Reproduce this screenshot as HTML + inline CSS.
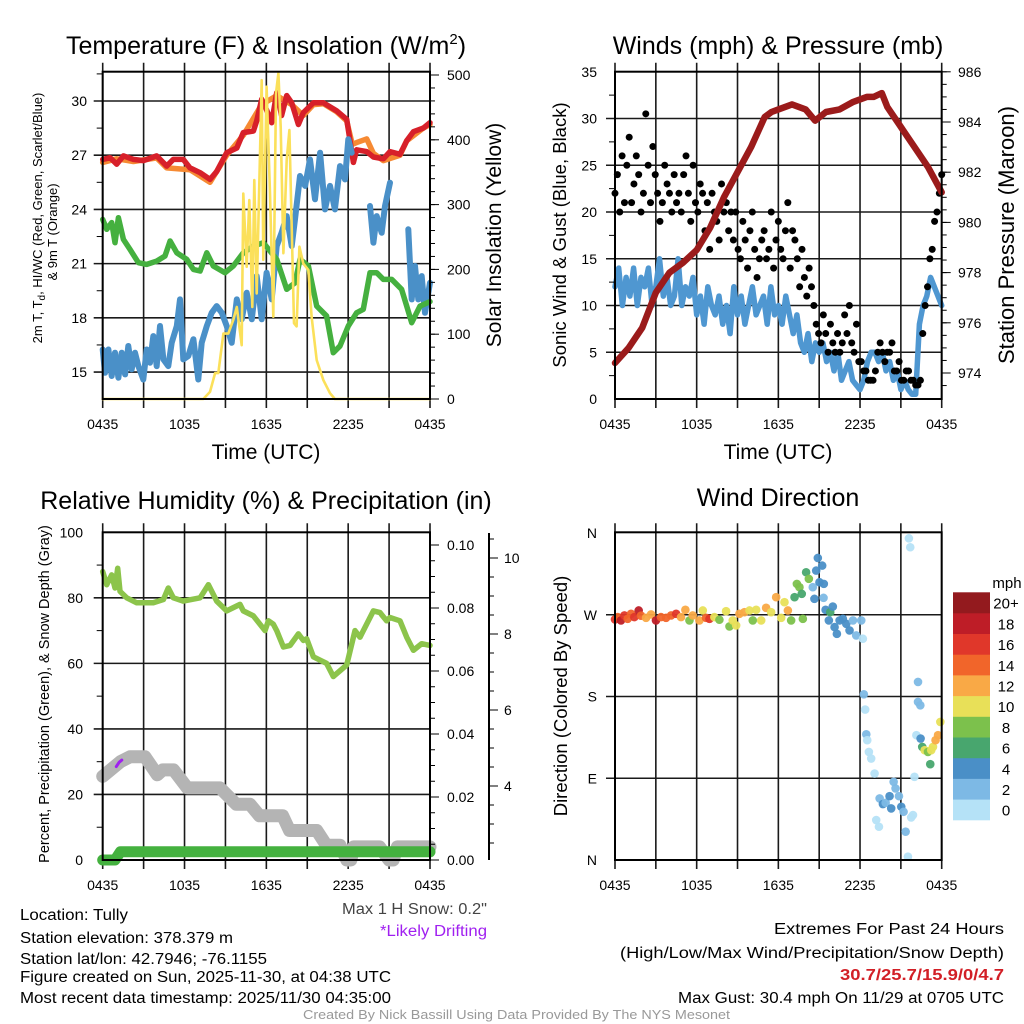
<!DOCTYPE html>
<html><head><meta charset="utf-8"><style>
html,body{margin:0;padding:0;background:#fff;}
svg{display:block;font-family:"Liberation Sans",sans-serif;}
</style></head><body>
<svg id="fig" width="1024" height="1024" viewBox="0 0 1024 1024" xmlns="http://www.w3.org/2000/svg">
<rect x="0" y="0" width="1024" height="1024" fill="#fff"/>
<g id="grids"></g>
<g id="marks"></g>
<g id="axes"></g>
<g id="texts"></g>
</svg>
<script>
// ---------- Panel 1 data: temperature (F) & insolation ----------
const redT=[0,0.54,1.03,1.52,2.25,2.98,3.96,4.69,5.18,5.91,6.4,7.14,7.87,8.36,9.09,9.83,10.31,11.05,11.29,11.66,12.02,12.39,12.76,13.12,13.49,13.86,14.35,14.71,15.45,16.18,17.16,17.89,18.38,18.62,19.36,19.85,20.58,21.07,21.8,22.29,22.78,23.51,24];
const redV=[26.77,26.86,26.5,26.96,26.77,26.7,26.96,26.4,26.77,26.77,26.3,26.03,25.66,26.1,27.14,27.4,28.25,28.34,28.9,30.1,29.5,28.8,30.46,29.2,30.3,29.9,28.7,29.35,29.9,29.9,29.45,28.99,26.6,27.3,27.2,26.9,26.8,27.2,27.05,27.8,28.3,28.5,28.8];
const orangeT=[0,1.03,2.25,3.96,4.69,6.4,7.87,9.09,10.31,11.66,12.76,13.86,14.71,15.45,16.18,17.16,17.89,18.3,18.62,19.36,19.85,20.58,21.8,22.29,23.51,24];
const orangeV=[26.6,26.8,26.65,26.85,26.3,26.2,25.5,27.0,28.1,29.8,30.3,29.8,29.2,29.8,29.85,29.4,28.9,27.6,27.7,27.9,27.1,26.7,27.0,27.8,28.5,28.7];
const blueT=[0,0.17,0.42,0.66,0.9,1.15,1.39,1.64,1.88,2.13,2.37,2.62,2.98,3.23,3.47,3.71,3.96,4.2,4.45,4.81,5.06,5.43,5.67,5.91,6.28,6.65,7.01,7.26,7.63,7.99,8.36,8.73,9.09,9.46,9.83,10.19,10.56,10.93,11.29,11.66,12.02,12.39,12.76,13.12,13.49,13.86,14.1,14.47,14.84,15.2,15.57,15.94,16.3,16.67,17.03,17.4,17.77,18.01,18.26,18.3,19.6,19.85,20.09,20.46,20.7,21.07,21.1,22.41,22.66,22.9,23.14,23.39,23.63,24];
const blueV=[16.25,14.96,16.25,14.78,16.07,14.69,16.07,14.87,16.44,15.15,16.07,15.33,14.59,16.25,15.52,16.99,15.33,17.55,15.7,15.33,16.62,17.55,19.02,15.7,15.89,16.81,14.59,16.62,17.55,18.28,18.65,18.28,17.55,16.62,19.02,17.92,19.39,17.92,20.31,17.92,20.5,19.02,21.97,22.71,23.63,21.97,23.45,25.85,25.3,26.77,24.56,27.14,24.0,25.3,24.0,26.4,25.66,27.88,27.14,NaN,24.19,22.16,23.63,22.71,24.19,25.48,NaN,22.9,19.02,20.87,19.02,20.31,18.28,19.94];
const greenT=[0,0.29,0.66,0.9,1.15,1.52,2.0,2.62,3.23,3.96,4.57,4.94,5.43,6.16,6.65,7.14,7.63,8.11,8.97,9.58,10.31,11.05,11.78,12.76,13.49,14.1,14.47,15.08,15.69,16.42,16.91,17.4,18.01,18.62,19.11,19.6,20.09,20.58,21.2,21.92,22.29,22.66,23.27,24];
const greenV=[23.45,22.9,23.27,22.16,23.54,22.34,21.79,21.05,20.96,21.14,21.42,22.25,21.6,21.24,20.68,20.59,21.6,20.87,20.5,20.87,21.6,21.97,22.16,21.24,19.58,19.94,21.24,20.87,18.65,18.1,16.07,16.44,17.55,18.28,18.47,20.5,20.5,20.13,20.13,19.58,18.65,17.73,18.65,18.9];
const solarT=[0,7.38,7.87,8.24,8.48,8.85,9.21,9.58,9.83,10.19,10.31,10.56,10.75,10.97,11.12,11.29,11.41,11.66,11.78,12.02,12.27,12.51,12.71,12.88,13.05,13.25,13.49,13.69,13.86,14.03,14.22,14.42,14.71,15.08,15.32,15.69,16.18,16.67,17.03,24];
const solarV=[0,0,11,40,40,101,101,122,142,83,317,204,307,142,338,163,266,492,215,482,317,127,472,503,420,225,369,415,266,117,112,235,209,199,127,60,29,9,0,0];
const tempTicks=[15,18,21,24,27,30];
const solarTicks=[0,100,200,300,400,500];
const timeLabels=["0435","1035","1635","2235","0435"];

// ---------- Panel 2 data: winds & pressure ----------
const presT=[0,1,2,3,4,5,6,7,8,9,10,11,11.5,12,13,14,14.7,15.5,16.5,17.5,18.5,19,19.6,20,21,22,23,24];
const presV=[974.4,975.0,975.8,977.2,978.0,978.4,978.9,979.8,981.0,982.0,983.0,984.2,984.4,984.5,984.7,984.5,984.05,984.4,984.5,984.8,985.0,985.0,985.15,984.6,983.8,983.0,982.2,981.2];
const windV=[12,14,10,13,11,14,10,13,12,14,10,12,15,11,13,10,11,15,10,12,11,13,9,11,8,12,10,9,11,8,10,7,12,9,11,8,10,12,9,10,11,8,12,9,10,8,11,9,7,9,6,5,7,4,6,5,6,4,5,3,5,2,3,4,2,1.5,1,2,4,5,5,4,5,3,4,2,3,1,2,1,0.5,0.5,8,10,11,13,12,11,10];
const gustV=[22,24,20,26,21,25,28,21,23,26,24,20,22,30.5,25,21,27,24,22,19,21,25,23,22,20,24,21,22,20,24,26,22,19,25,21,20,23,22,18,21,16,22,20,19,17,23,20,21,18,20,17,20,16,15,19,17,14,18,20,16,13,15,17,18,15,16,20,14,17,19,16,15,18,21,14,18,17,15,12,16,13,11,14,12,10,8,7,6,9,7,5,8,6,5,7,5,6,9,7,10,6,5,8,4,4,3,3,2,2,2,3,5,6,5,4,5,5,6,3,3,4,2,2,3,3,2,2,1.5,1.5,2,7,10,12,15,16,19,20,22,24];
const windTicks=[0,5,10,15,20,25,30,35];
const presTicks=[974,976,978,980,982,984,986];

// ---------- Panel 3 data: RH, precip, snow depth ----------
const rhT=[0,0.29,0.66,0.9,1.1,1.27,1.76,2.49,3.71,4.45,4.81,5.18,5.91,7.14,7.75,8.36,9.09,10.07,10.31,11.05,11.9,12.15,12.51,12.76,13.25,13.74,14.35,14.71,14.96,15.45,15.93,16.42,16.91,17.89,18.5,18.87,19.85,20.33,20.82,21.07,21.8,22.29,22.78,23.39,24];
const rhV=[88,84,87,83,89,82,80,78.5,78.5,79.5,83,80,79,80,84,79,76,78,76,74.5,70,73,72,70,65,65.5,69,67,67.5,62,61,60,56,59.5,70,68,76,75.5,73,74,73,68,64,66,65.5];
const snowT=[0,1.3,2,3.1,4,4.4,5.2,6.2,8.6,9.8,10.8,11.5,13.2,13.7,15.7,16.4,17.4,17.9,18.2,18.4,20.3,21,21.3,21.6,24];
const snowV=[25.5,30,31.5,31.5,26,27.5,27.5,22,22,17,17,13.5,13.5,9,9,4.5,4.5,0,0,4,4,0,0,4,4];
const driftT=[1.0,1.2,1.4];
const driftV=[28.5,29.8,30.5];
const precT=[0,0.9,1.3,24];
const precV=[0,0,0.0026,0.0026];
const rhTicks=[0,20,40,60,80,100];
const precTicks=["0.00","0.02","0.04","0.06","0.08","0.10"];
const snowTicks=[4,6,8,10];

// ---------- Panel 4 data: wind direction ----------
const dirT=[0,0.2,0.44,0.69,0.93,1.18,1.42,1.74,1.91,2.28,2.65,3.01,3.38,3.75,4.12,4.49,4.85,5.17,5.47,5.71,6.2,6.45,6.69,6.94,7.3,7.67,8.16,8.41,8.65,8.9,9.14,9.51,9.88,10.12,10.37,10.74,11.1,11.47,11.84,12.21,12.45,12.7,12.94,13.19,13.36,13.55,13.72,13.8,14.04,14.24,14.53,14.65,14.78,14.9,15.02,15.22,15.34,15.32,15.47,15.81,15.71,16.0,16.13,16.3,16.5,16.74,16.99,17.23,17.48,17.72,18.09,18.21,18.28,18.38,18.46,18.53,18.65,18.82,19.07,19.19,19.39,19.44,19.68,19.88,20.17,20.29,20.47,20.61,20.86,21.03,21.2,21.35,21.59,21.69,21.52,21.76,21.89,22.0,22.26,22.26,22.43,22.14,22.45,22.57,22.75,22.99,23.16,23.23,23.36,23.55,23.73,23.9];
const dirV=[264.8,267.4,263.7,269.2,265.5,271,267.4,274.7,269,266.6,270.3,263.7,267.4,266.6,269.2,271,267.4,275.4,263.7,269.2,263.7,274.7,266.6,265.5,267.4,264.5,273.9,257.1,263.7,258.2,271,272.8,274.7,263.7,275.4,263.7,277.6,272.8,289.3,266.6,283.8,274.7,263.7,289.3,304,300.3,293,265.5,316.8,309.5,300.3,287.5,318.6,332.5,305.8,324.1,304,288.6,275.4,272.8,263.7,279,256.4,249,263.7,265.5,260,252.7,263.7,247.2,263.7,243.6,182.4,165.6,138.4,131.9,119,111.7,95.2,44,36.6,67.8,61.6,63,70.3,56.8,86.1,78.8,70.3,58.6,53.1,31.2,354.1,344.3,3.7,46.9,49.5,91.6,196,174,170.3,137.4,133.7,124.5,120.9,119,105.5,120.9,124.5,131.9,137.4,152];
const dirS=[16,14,18,16,14,15,16,18,14,12,13,18,15,14,15,16,12,12,8,13,12,10,14,16,10,8,10,8,10,10,12,12,10,8,10,10,12,10,12,10,10,12,8,6,8,8,6,8,6,8,2,4,4,4,4,4,4,2,4,6,4,4,4,4,4,4,4,4,2,2,2,0,2,0,2,0,0,0,0,0,0,2,4,2,4,4,2,2,2,4,2,2,0,0,0,0,0,0,2,2,2,0,4,6,10,8,6,10,10,12,12,10];
const dirTicks=["N","E","S","W","N"];
const speedLabels=["0","2","4","6","8","10","12","14","16","18","20+"];
const speedColors=["#b5e2f7","#7db9e5","#4a8fc7","#48a66e","#7cc14c","#e8e058","#f9a946","#f1652a","#e0372a","#be1d27","#931a1e"];

// ---------- helpers ----------
const NS="http://www.w3.org/2000/svg";
function mk(parent,tag,attrs){const e=document.createElementNS(NS,tag);for(const k in attrs)e.setAttribute(k,attrs[k]);document.getElementById(parent).appendChild(e);return e;}
function txt(parent,x,y,s,size,anchor,fill,extra){const e=mk(parent,"text",Object.assign({x:x,y:y,"font-size":size,"text-anchor":anchor||"start",fill:fill||"#000"},extra||{}));e.textContent=s;return e;}
function pathFrom(ts,vs,xf,yf){let d="",pen=false;for(let i=0;i<ts.length;i++){if(isNaN(vs[i])){pen=false;continue;}d+=(pen?"L":"M")+xf(ts[i]).toFixed(1)+","+yf(vs[i]).toFixed(1);pen=true;}return d;}

// scales
const X1=t=>102.7+t*327.3/24;
const X2=t=>615+t*326.7/24;
const yTemp=v=>101+(30-v)*18.07;
const ySolar=w=>399-w*0.648;
const yWind=v=>399-v*9.35;
const yPres=p=>373-(p-974)*25.1;
const yRH=v=>860-v*3.277;
const yPrec=v=>860-v*3150;
const ySnow=v=>938-v*38;
const yDir=d=>860-d*327/360;

// ---------- frames & grids ----------
function frame(name,x0,x1,y0,y1,yl,yr){
  const g=mk("grids","g",{});
  
  
  for(let i=0;i<=8;i++){const x=x0+(x1-x0)*i/8;
    const l=mk("grids","line",{x1:x,y1:y0-9,x2:x,y2:y1+9,stroke:"#1a1a1a","stroke-width":1.6});
    
    }
  yl.forEach(y=>{const l=mk("grids","line",{x1:x0-9,y1:y,x2:x1,y2:y,stroke:"#1a1a1a","stroke-width":1.6});
    
    });
  const r=mk("axes","rect",{x:x0,y:y0,width:x1-x0,height:y1-y0,fill:"none",stroke:"#000","stroke-width":2});
  
  
  timeLabels.forEach((s,i)=>{const t=txt("texts",x0+(x1-x0)*i/4,y1+30,s,14,"middle");
    
    });
}
function minor(x,ys,dir,len){ys.forEach(y=>{const l=mk("axes","line",{x1:x,y1:y,x2:x+dir*len,y2:y,stroke:"#000","stroke-width":1});
  
  });}

// Panel 1
frame("temperature-panel",102.7,430,71.7,399,tempTicks.map(yTemp));
tempTicks.forEach(v=>{const t=txt("texts",87,yTemp(v)+5,String(v),14,"end");
  
  });
minor(102.7,[16.5,19.5,22.5,25.5,28.5,31.5].map(yTemp),-1,6);
{const a=[];for(let w=0;w<=500;w+=20)a.push(ySolar(w));minor(430,a,1,5);}
solarTicks.forEach(v=>{minor(430,[ySolar(v)],1,9);const t=txt("texts",447,ySolar(v)+5,String(v),14,"start");
  
  });

// Panel 2
frame("winds-panel",615,941.7,71.7,399,windTicks.filter(v=>v>0&&v<35).map(yWind));
windTicks.forEach(v=>{const t=txt("texts",597,yWind(v)+5,String(v),14,"end");
  
  });
minor(615,[2.5,7.5,12.5,17.5,22.5,27.5,32.5].map(yWind),-1,6);
{const a=[];for(let p=973.5;p<=986.6;p+=0.5)a.push(yPres(p));minor(941.7,a.filter(y=>y>=71&&y<=399),1,5);}
presTicks.forEach(v=>{minor(941.7,[yPres(v)],1,9);const t=txt("texts",958,yPres(v)+5,String(v),14,"start");
  
  });

// Panel 3
frame("humidity-panel",102.7,430,532.3,860,rhTicks.filter(v=>v>0&&v<100).map(yRH));
rhTicks.forEach(v=>{const t=txt("texts",83,yRH(v)+5,String(v),14,"end");
  
  });
minor(102.7,[10,30,50,70,90].map(yRH),-1,6);
{const a=[];for(let p=0;p<=0.105;p+=0.005)a.push(yPrec(p));minor(430,a,1,5);}
precTicks.forEach(s=>{const v=parseFloat(s);minor(430,[yPrec(v)],1,9);const t=txt("texts",447,yPrec(v)+5,s,14,"start");
  
  });
{const ax=mk("axes","line",{x1:489,y1:533,x2:489,y2:860,stroke:"#000","stroke-width":2});
  
  
  const a=[];for(let s=2.5;s<=10.5;s+=0.5)a.push(ySnow(s));minor(489,a,1,5);}
snowTicks.forEach(v=>{minor(489,[ySnow(v)],1,9);const t=txt("texts",504,ySnow(v)+5,String(v),14,"start");
  
  });

// Panel 4
frame("direction-panel",615,941.7,532.3,860,[90,180,270].map(yDir));
dirTicks.forEach((s,i)=>{const t=txt("texts",597,yDir(i*90)+5,s,14,"end");
  
  });

// ---------- marks ----------
function line(d,color,w,name){const p=mk("marks","path",{d:d,fill:"none",stroke:color,"stroke-width":w,"stroke-linejoin":"round","stroke-linecap":"round"});
  
  return p;}

line(pathFrom(orangeT,orangeV,X1,yTemp),"#f68a33",5.5,"9m-temperature-line");
line(pathFrom(redT,redV,X1,yTemp),"#d7202a",5.5,"2m-temperature-line");
line(pathFrom(blueT,blueV,X1,yTemp),"#4a90c8",6,"windchill-line");
line(pathFrom(greenT,greenV,X1,yTemp),"#45b03f",5.5,"dewpoint-line");
line(pathFrom(solarT,solarV,X1,ySolar),"#fbe05a",2.6,"solar-insolation-line");

line(pathFrom(windV.map((v,i)=>i*24/(windV.length-1)),windV,X2,yWind),"#4f97d1",5.5,"sonic-wind-line");
gustV.forEach((v,i)=>{const c=mk("marks","circle",{cx:X2(i*24/(gustV.length-1)),cy:yWind(v),r:3.5,fill:"#000"});
  
  });
line(pathFrom(presT,presV,X2,yPres),"#9b1b1b",6.5,"pressure-line");

line(pathFrom(snowT,snowV,X1,yRH),"#b4b4b4",13,"snow-depth-line");
line(pathFrom(driftT,driftV,X1,yRH),"#a020f0",3,"likely-drifting-line");
line(pathFrom(precT,precV,X1,yPrec),"#44b13f",11,"precipitation-line");
line(pathFrom(rhT,rhV,X1,yRH),"#8cc44b",5.5,"relative-humidity-line");

dirT.forEach((t,i)=>{const k=Math.min(10,Math.floor(dirS[i]/2));const c=mk("marks","circle",{cx:X2(t),cy:yDir(dirV[i]),r:4.3,fill:speedColors[k],"fill-opacity":0.95});
  
  });

// colorbar
speedColors.forEach((c,i)=>{const h=20.7;const y=820-(i+1)*h;
  const r=mk("marks","rect",{x:953,y:y,width:37,height:h+0.3,fill:c});
  
  
  const t=txt("texts",1006,y+h/2+6,speedLabels[i],15,"middle");
  
  });
{const t=txt("texts",1007,588,"mph",15,"middle");
  
  }

// ---------- titles & labels ----------
function T(x,y,s,size,anchor,name,opt){const t=txt("texts",x,y,s,size,anchor,(opt&&opt.fill)||"#000",opt&&opt.extra);
  
  return t;}
{const t=T(266,54,"Temperature (F) & Insolation (W/m",25,"middle","temperature-title");
  const s=document.createElementNS(NS,"tspan");s.setAttribute("dy","-10");s.setAttribute("font-size","15");s.textContent="2";t.appendChild(s);
  const s2=document.createElementNS(NS,"tspan");s2.setAttribute("dy","10");s2.textContent=")";t.appendChild(s2);}
T(778,54,"Winds (mph) & Pressure (mb)",25,"middle","winds-title");
T(266,509,"Relative Humidity (%) & Precipitation (in)",25,"middle","humidity-title");
T(778,506,"Wind Direction",25,"middle","direction-title");
T(266,459,"Time (UTC)",21,"middle","temperature-x-title");
T(778,459,"Time (UTC)",21,"middle","winds-x-title");
{const t=T(0,0,"2m T, T",13,"middle","temperature-y-title",{extra:{transform:"translate(42,218) rotate(-90)"}});
  const s=document.createElementNS(NS,"tspan");s.setAttribute("font-size","10");s.setAttribute("dy","3");s.textContent="d";t.appendChild(s);
  const s2=document.createElementNS(NS,"tspan");s2.setAttribute("dy","-3");s2.textContent=", HI/WC (Red, Green, Scarlet/Blue)";t.appendChild(s2);}
T(0,0,"& 9m T (Orange)",13,"middle","temperature-y-title-2",{extra:{transform:"translate(57,232) rotate(-90)"}});
T(0,0,"Solar Insolation (Yellow)",21,"middle","solar-y-title",{extra:{transform:"translate(501,235) rotate(-90)"}});
T(0,0,"Sonic Wind & Gust (Blue, Black)",18.5,"middle","wind-y-title",{extra:{transform:"translate(566,235) rotate(-90)"}});
T(0,0,"Station Pressure (Maroon)",22,"middle","pressure-y-title",{extra:{transform:"translate(1014,235) rotate(-90)"}});
T(0,0,"Percent, Precipitation (Green), & Snow Depth (Gray)",14.5,"middle","humidity-y-title",{extra:{transform:"translate(49,694) rotate(-90)"}});
T(0,0,"Direction (Colored By Speed)",18.5,"middle","direction-y-title",{extra:{transform:"translate(567,696) rotate(-90)"}});

// footer text (condensed)
function C(x,y,s,len,anchor,name,fill,size,weight){const ex={textLength:len,lengthAdjust:"spacingAndGlyphs"};if(weight)ex["font-weight"]=weight;
  const t=txt("texts",x,y,s,size||15.5,anchor,fill||"#000",ex);
  
  return t;}
C(20,920,"Location: Tully",108,"start","location-text");
C(20,943,"Station elevation: 378.379 m",213,"start","elevation-text");
C(20,964,"Station lat/lon: 42.7946; -76.1155",247,"start","latlon-text");
C(20,982,"Figure created on Sun, 2025-11-30, at 04:38 UTC",371,"start","created-text");
C(20,1003,"Most recent data timestamp: 2025/11/30 04:35:00",371,"start","timestamp-text");
C(342,914,"Max 1 H Snow: 0.2\"",145,"start","max-snow-text","#444");
C(380,936,"*Likely Drifting",107,"start","drifting-note","#a020f0");
C(774,934,"Extremes For Past 24 Hours",230,"start","extremes-title");
C(620,958,"(High/Low/Max Wind/Precipitation/Snow Depth)",384,"start","extremes-legend");
C(840,980,"30.7/25.7/15.9/0/4.7",164,"start","extremes-values","#d21f26",16,"bold");
C(678,1003,"Max Gust: 30.4 mph On 11/29 at 0705 UTC",326,"start","max-gust-text");
C(303,1019,"Created By Nick Bassill Using Data Provided By The NYS Mesonet",427,"start","credit-text","#999",12.5);
</script>
</body></html>
